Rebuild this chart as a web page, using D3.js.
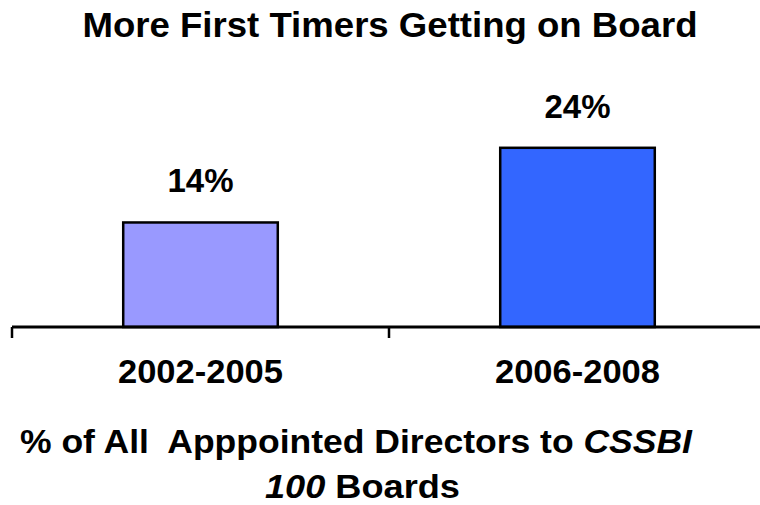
<!DOCTYPE html>
<html>
<head>
<meta charset="utf-8">
<script src="https://cdn.jsdelivr.net/npm/d3@7"></script>
<style>
  body { margin: 0; background: #fff; }
  text { font-family: "Liberation Sans", Arial, sans-serif; font-weight: bold; fill: #000; }
</style>
</head>
<body>
<div id="chart"></div>
<script>
// data
const periods = ["2002-2005", "2006-2008"];
const shares = [14, 24];
const barColors = ["#9999FF", "#3366FF"];

const width = 760, height = 505;

const svg = d3.select("#chart").append("svg")
    .attr("width", width)
    .attr("height", height);

const x = d3.scaleBand()
    .domain(periods)
    .range([12, 766])
    .padding(0);

const y = d3.scaleLinear()
    .domain([0, 30])
    .range([327, 103]);

const barW = x.bandwidth() * 0.41;

// title
svg.append("text")
    .attr("x", 390)
    .attr("y", 37)
    .attr("text-anchor", "middle")
    .attr("font-size", 35)
    .attr("textLength", 615)
    .attr("lengthAdjust", "spacingAndGlyphs")
    .text("More First Timers Getting on Board");

// bars
svg.selectAll("rect.bar")
    .data(periods)
  .enter().append("rect")
    .attr("class", "bar")
    .attr("x", d => x(d) + x.bandwidth() / 2 - barW / 2)
    .attr("y", (d, i) => y(shares[i]))
    .attr("width", barW)
    .attr("height", (d, i) => y(0) - y(shares[i]))
    .attr("fill", (d, i) => barColors[i])
    .attr("stroke", "#000")
    .attr("stroke-width", 2.5);

// value labels
svg.selectAll("text.val")
    .data(periods)
  .enter().append("text")
    .attr("class", "val")
    .attr("x", d => x(d) + x.bandwidth() / 2)
    .attr("y", (d, i) => y(shares[i]) - 30)
    .attr("text-anchor", "middle")
    .attr("font-size", 33)
    .text((d, i) => shares[i] + "%");

// axis line and ticks
const [x0, x1] = x.range();
svg.append("line")
    .attr("x1", x0).attr("x2", x1 + 10)
    .attr("y1", y(0)).attr("y2", y(0))
    .attr("stroke", "#000")
    .attr("stroke-width", 3);

const tickXs = periods.map(d => x(d));
svg.selectAll("line.tick")
    .data(tickXs)
  .enter().append("line")
    .attr("class", "tick")
    .attr("x1", d => d).attr("x2", d => d)
    .attr("y1", y(0)).attr("y2", y(0) + 11)
    .attr("stroke", "#000")
    .attr("stroke-width", 2.5);

// category labels
svg.selectAll("text.cat")
    .data(periods)
  .enter().append("text")
    .attr("class", "cat")
    .attr("x", d => x(d) + x.bandwidth() / 2)
    .attr("y", 383)
    .attr("text-anchor", "middle")
    .attr("font-size", 33)
    .attr("textLength", 165)
    .attr("lengthAdjust", "spacingAndGlyphs")
    .text(d => d);

// footer caption
const line1 = svg.append("text")
    .attr("x", 20)
    .attr("y", 453)
    .attr("font-size", 33)
    .attr("textLength", 672)
    .attr("lengthAdjust", "spacingAndGlyphs")
    .attr("xml:space", "preserve");
line1.append("tspan").text("% of All  Apppointed Directors to ");
line1.append("tspan").attr("font-style", "italic").text("CSSBI");

const line2 = svg.append("text")
    .attr("x", 265)
    .attr("y", 498)
    .attr("font-size", 33)
    .attr("textLength", 195)
    .attr("lengthAdjust", "spacingAndGlyphs");
line2.append("tspan").attr("font-style", "italic").text("100");
line2.append("tspan").text(" Boards");
</script>
</body>
</html>
